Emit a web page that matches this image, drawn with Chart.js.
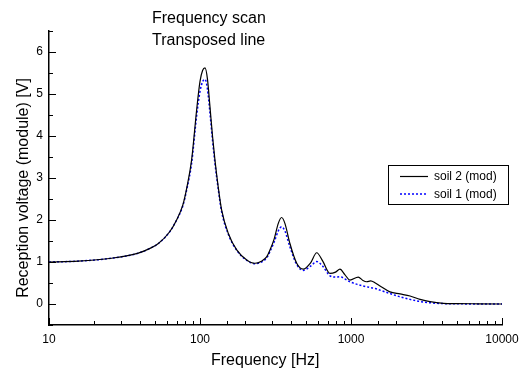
<!DOCTYPE html>
<html>
<head>
<meta charset="utf-8">
<script src="https://cdn.jsdelivr.net/npm/chart.js@4"></script>
<style>
  body { margin: 0; background: #fff; }
</style>
</head>
<body>
<canvas id="chart" width="529" height="370"></canvas>
<script>
const FONT = '"Liberation Sans", Arial, sans-serif';

// частоти, Гц
const freqs = [10, 15.6, 26, 39, 47, 53, 63, 70, 77, 82, 88, 95, 100, 104, 108, 112, 116.4, 121, 125.6, 132,
  139, 154, 175, 204, 231, 255, 277, 291, 310, 330, 347, 365, 394, 437, 483, 540, 593, 650, 726, 790,
  845, 910, 984, 1117, 1200, 1270, 1350, 1450, 1556, 1811, 2113, 2461, 2866, 3337, 4087, 5000, 7000, 10000];

const soil2 = [1.00, 1.02, 1.09, 1.21, 1.33, 1.44, 1.72, 2.00, 2.36, 2.79, 3.43, 4.62, 5.30, 5.56, 5.62, 5.36, 4.70, 4.00, 3.43, 2.79,
  2.24, 1.68, 1.29, 1.05, 0.97, 1.02, 1.13, 1.29, 1.55, 1.92, 2.06, 1.92, 1.44, 0.97, 0.83, 0.98, 1.22, 1.02, 0.73, 0.76,
  0.83, 0.70, 0.57, 0.64, 0.56, 0.53, 0.55, 0.50, 0.43, 0.29, 0.24, 0.19, 0.11, 0.055, 0.017, 0.01, 0.005, 0];

const soil1 = [1.00, 1.02, 1.09, 1.21, 1.33, 1.44, 1.72, 2.00, 2.34, 2.75, 3.35, 4.48, 5.06, 5.29, 5.35, 5.12, 4.55, 3.90, 3.35, 2.74,
  2.20, 1.66, 1.28, 1.04, 0.96, 1.00, 1.10, 1.25, 1.48, 1.74, 1.84, 1.74, 1.36, 0.94, 0.80, 0.90, 1.01, 0.90, 0.67, 0.64,
  0.65, 0.60, 0.53, 0.46, 0.43, 0.41, 0.39, 0.37, 0.33, 0.25, 0.17, 0.11, 0.06, 0.03, 0.01, 0.005, 0, 0];

const xMajor = [10, 100, 1000, 10000];
const yMajor = [0, 1, 2, 3, 4, 5, 6];

function isMajorX(v) {
  return xMajor.some(m => Math.abs(m - v) < 1e-6);
}

// тики всередину графіка
const innerTicks = {
  id: 'innerTicks',
  afterDatasetsDraw(chart) {
    const { ctx, scales: { x, y } } = chart;
    ctx.save();
    ctx.strokeStyle = '#000';
    ctx.lineWidth = 1;
    ctx.beginPath();
    x.ticks.forEach(t => {
      const px = Math.round(x.getPixelForValue(t.value)) + 0.5;
      const len = isMajorX(t.value) ? 7 : 4;
      ctx.moveTo(px, x.top);
      ctx.lineTo(px, x.top - len);
    });
    y.ticks.forEach(t => {
      const py = Math.round(y.getPixelForValue(t.value)) + 0.5;
      const len = yMajor.includes(t.value) ? 7 : 4;
      ctx.moveTo(y.right, py);
      ctx.lineTo(y.right + len, py);
    });
    ctx.stroke();
    ctx.restore();
  }
};

// заголовки та легенда
const texts = {
  id: 'texts',
  afterDraw(chart) {
    const ctx = chart.ctx;
    ctx.save();
    ctx.fillStyle = '#000';
    ctx.font = '16px ' + FONT;
    ctx.textAlign = 'left';
    ctx.textBaseline = 'alphabetic';
    ctx.fillText('Frequency scan', 152, 23);
    ctx.fillText('Transposed line', 152, 44.5);
    ctx.fillText('Frequency [Hz]', 211, 365);

    ctx.save();
    ctx.translate(28, 188);
    ctx.rotate(-Math.PI / 2);
    ctx.textAlign = 'center';
    ctx.fillText('Reception voltage (module) [V]', 0, 0);
    ctx.restore();

    // легенда
    ctx.strokeStyle = '#000';
    ctx.lineWidth = 1;
    ctx.strokeRect(388.5, 165.5, 120, 39);
    ctx.font = '12px ' + FONT;
    ctx.textBaseline = 'middle';
    const rows = [176.5, 194];
    chart.data.datasets.forEach((ds, i) => {
      ctx.beginPath();
      ctx.strokeStyle = ds.borderColor;
      ctx.lineWidth = ds.borderWidth;
      ctx.setLineDash(ds.borderDash || []);
      ctx.moveTo(400, rows[i]);
      ctx.lineTo(428, rows[i]);
      ctx.stroke();
      ctx.setLineDash([]);
      ctx.fillText(ds.label, 434, rows[i] + 0.5);
    });
    ctx.restore();
  }
};

new Chart(document.getElementById('chart'), {
  type: 'line',
  data: {
    datasets: [
      {
        label: 'soil 2 (mod)',
        data: freqs.map((f, i) => ({ x: f, y: soil2[i] })),
        borderColor: '#000000',
        borderWidth: 1.2,
        pointRadius: 0,
        cubicInterpolationMode: 'monotone'
      },
      {
        label: 'soil 1 (mod)',
        data: freqs.map((f, i) => ({ x: f, y: soil1[i] })),
        borderColor: '#0000ff',
        borderWidth: 1.5,
        borderDash: [2, 2],
        pointRadius: 0,
        cubicInterpolationMode: 'monotone'
      }
    ]
  },
  options: {
    responsive: false,
    animation: false,
    layout: { padding: { left: 0, right: 27, top: 31, bottom: 0 } },
    plugins: {
      legend: { display: false },
      tooltip: { enabled: false }
    },
    scales: {
      x: {
        type: 'logarithmic',
        min: 10,
        max: 10000,
        afterFit: s => { s.height = 45; },
        grid: { display: false, tickLength: 0 },
        border: { color: '#000', width: 1.5 },
        ticks: {
          autoSkip: false,
          maxRotation: 0,
          padding: 7,
          color: '#000',
          font: { family: FONT, size: 12 },
          callback: v => isMajorX(v) ? String(v) : ''
        }
      },
      y: {
        min: -0.5,
        max: 6.5,
        afterFit: s => { s.width = 49; },
        grid: { display: false, tickLength: 0 },
        border: { color: '#000', width: 1.5 },
        ticks: {
          stepSize: 0.5,
          autoSkip: false,
          padding: 6,
          color: '#000',
          font: { family: FONT, size: 12 },
          callback: v => yMajor.includes(v) ? String(v) : ''
        }
      }
    }
  },
  plugins: [innerTicks, texts]
});
</script>
</body>
</html>
